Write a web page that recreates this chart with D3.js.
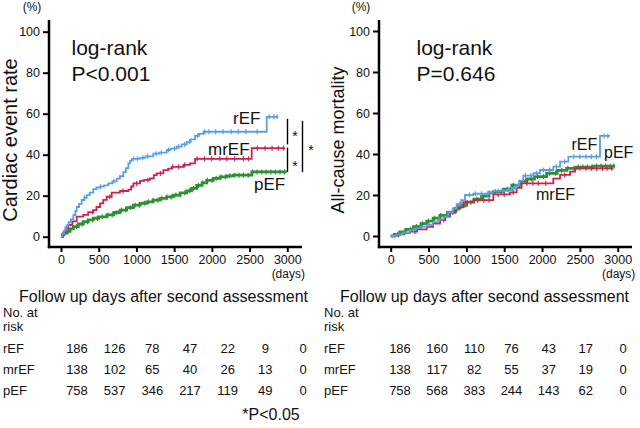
<!DOCTYPE html>
<html><head><meta charset="utf-8">
<script src="https://cdn.jsdelivr.net/npm/d3@7"></script>
<style>
body{margin:0;background:#fff}
svg{display:block}
text{font-family:"Liberation Sans",Arial,sans-serif;fill:#111}
</style>
</head><body>
<svg id="chart" width="640" height="428"></svg>
<script>
// ---------- data ----------
const xTicks = [0, 500, 1000, 1500, 2000, 2500, 3000];
const yTicks = [0, 20, 40, 60, 80, 100];
const groups = ["rEF", "mrEF", "pEF"];
const groupColors = ["#5a9ee6", "#d11f4f", "#2d9132"];

// Cardiac event rate (%), [day, cumulative %] step points
const cardiacREF = [[0,0],[20,1.5],[40,3],[60,4.5],[75,5.5],[100,7],[130,8.5],[163,10.5],[190,12.5],[208,14.5],[240,16],[274,17.9],[310,19],[340,20.3],[380,21.5],[429,23.2],[470,24],[517,24.4],[570,25],[628,26],[680,27],[738,28.3],[780,29.5],[826,31.5],[860,33.5],[893,35.8],[915,37],[937,38],[1047,38.5],[1120,39.2],[1224,40.5],[1300,41],[1401,42.3],[1450,43],[1534,43.9],[1600,45],[1666,46.3],[1720,47.5],[1777,49.2],[1830,50.2],[1887,51.2],[2727,58.5],[2881,58.5]];
const cardiacMREF = [[0,0],[30,2],[60,4],[97,5.7],[150,7.5],[208,9.8],[296,10.6],[360,12],[429,13],[470,14.5],[517,16.3],[560,18],[606,19.5],[672,21.5],[782,22.3],[893,23],[930,24.5],[959,26],[1047,27.2],[1100,27.7],[1180,28.5],[1230,30],[1268,30.9],[1357,32.5],[1420,33.2],[1467,34.1],[1622,35],[1710,35.8],[1777,38],[2528,43.2],[2970,43.2]];
const cardiacPEF = [[0,0],[20,1],[40,1.8],[75,2.6],[120,3.8],[163,4.9],[230,6.2],[296,7.3],[360,8.2],[429,9],[500,9.7],[606,10.6],[700,11.8],[782,13],[870,14.2],[959,15.4],[1050,16.3],[1136,17],[1220,17.8],[1312,18.7],[1400,19.4],[1489,20.3],[1580,21.4],[1666,22.4],[1730,23.6],[1799,25],[1870,26.3],[1931,27.5],[2020,28.5],[2108,29.2],[2200,29.7],[2285,30],[2530,31.6],[2992,31.6]];
const cardiacCensorREF = [310,525,700,965,1012,1085,1150,1262,1330,1425,1505,1560,1640,1705,1812,1905,1962,2050,2148,2255,2350,2452,2600,2760,2822,2865];
const cardiacCensorMREF = [420,648,822,1003,1152,1318,1482,1561,1640,1805,1902,1998,2105,2198,2302,2418,2485,2603,2705,2798,2880,2950];
const cardiacCensorPEF = [98,205,278,352,418,483,548,622,679,741,803,858,921,982,1038,1103,1158,1222,1283,1338,1402,1461,1523,1578,1642,1703,1758,1822,1879,1941,2003,2058,2122,2181,2238,2302,2361,2418,2482,2541,2598,2662,2719,2781,2842,2903,2962];

// All-cause mortality (%)
const mortREF = [[0,0],[80,0.8],[160,1.8],[255,2.9],[330,3.8],[400,4.6],[476,5.4],[560,6.8],[620,8],[695,9.4],[760,11.5],[820,13.5],[872,15.5],[930,17.5],[982,20],[1092,20.6],[1300,21.2],[1356,22],[1533,22.4],[1600,23.5],[1665,24.9],[1700,27],[1753,29.5],[1885,30.6],[1973,32.2],[2149,33.8],[2238,36.3],[2348,38.7],[2766,48.8],[2898,48.8]];
const mortMREF = [[0,0],[100,0.8],[180,1.5],[255,2.1],[350,3.2],[476,4.5],[560,6],[652,7.8],[720,9.5],[784,11.9],[870,14],[960,16.5],[1092,17.5],[1356,20.3],[1577,21.3],[1665,23.5],[1730,25.7],[2149,28],[2238,29.8],[2370,31.4],[2436,33],[2942,33]];
const mortPEF = [[0,0],[50,0.8],[120,2],[200,3.2],[300,4.6],[400,6],[476,7.3],[560,8.7],[650,10],[750,11.5],[850,13.5],[916,15],[1004,16.5],[1100,18],[1200,19.5],[1300,21],[1356,21.6],[1488,22.8],[1600,24.8],[1709,26.6],[1800,27.8],[1900,29],[2061,30.6],[2200,32],[2326,33],[2450,33.6],[2678,34.1],[2964,34.1]];
const mortCensorREF = [300,510,640,905,1040,1120,1200,1280,1420,1480,1560,1640,1780,1850,1930,2020,2100,2190,2300,2420,2500,2580,2650,2720,2820,2870];
const mortCensorMREF = [320,560,700,880,1010,1150,1230,1300,1420,1500,1620,1800,1880,1950,2050,2300,2500,2580,2650,2720,2800,2860,2920];
const mortCensorPEF = [90,180,260,340,420,500,580,660,740,820,900,980,1060,1140,1220,1300,1380,1460,1540,1620,1700,1780,1860,1940,2020,2100,2180,2260,2340,2420,2480,2540,2600,2660,2720,2780,2840,2900,2950];

// Numbers at risk
const riskCardiacREF = [186,126,78,47,22,9,0];
const riskCardiacMREF = [138,102,65,40,26,13,0];
const riskCardiacPEF = [758,537,346,217,119,49,0];
const riskMortREF = [186,160,110,76,43,17,0];
const riskMortMREF = [138,117,82,55,37,19,0];
const riskMortPEF = [758,568,383,244,143,62,0];

// ---------- drawing ----------
const svg = d3.select("#chart");

function stepValue(data, t) {
  const i = d3.bisector(d => d[0]).right(data, t) - 1;
  return data[Math.max(0, i)][1];
}

function panel(cfg) {
  const x = d3.scaleLinear().domain([0, 3000]).range([cfg.x0, cfg.x1]);
  const y = d3.scaleLinear().domain([0, 100]).range([cfg.y0, cfg.y100]);
  const g = svg.append("g");

  const order = [2, 1, 0];
  order.forEach(k => {
    const data = cfg.series[k];
    const line = d3.line().x(d => x(d[0])).y(d => y(d[1])).curve(d3.curveStepAfter);
    g.append("path").datum(data).attr("d", line)
      .attr("fill", "none").attr("stroke", groupColors[k])
      .attr("stroke-width", k === 2 ? 2.8 : 1.8);
    g.append("g").selectAll("line").data(cfg.censors[k]).join("line")
      .attr("x1", t => x(t)).attr("x2", t => x(t))
      .attr("y1", t => y(stepValue(data, t)) - 2.5)
      .attr("y2", t => y(stepValue(data, t)) + 2.5)
      .attr("stroke", groupColors[k]).attr("stroke-width", 1.2);
  });

  const fmt = d3.format("d");
  const yAxis = d3.axisLeft(y).tickValues(yTicks).tickFormat(fmt).tickSize(6).tickPadding(3);
  const ya = g.append("g").attr("transform", `translate(${cfg.ax},0)`).call(yAxis);
  ya.select(".domain").remove();
  ya.selectAll(".tick line").attr("stroke", "#000").attr("stroke-width", 2);
  ya.selectAll(".tick text").style("font-size", "12.5px").attr("fill", "#111")
    .style("font-family", "'Liberation Sans',Arial,sans-serif");

  const xAxis = d3.axisBottom(x).tickValues(xTicks).tickFormat(fmt).tickSize(5).tickPadding(3);
  const xa = g.append("g").attr("transform", `translate(0,${cfg.ay})`).call(xAxis);
  xa.select(".domain").remove();
  xa.selectAll(".tick line").attr("stroke", "#000").attr("stroke-width", 2);
  xa.selectAll(".tick text").style("font-size", "12.5px").attr("fill", "#111")
    .style("font-family", "'Liberation Sans',Arial,sans-serif");

  g.append("line").attr("x1", cfg.ax).attr("x2", cfg.ax).attr("y1", 20).attr("y2", cfg.ay + 1.2)
    .attr("stroke", "#000").attr("stroke-width", 2.5);
  g.append("line").attr("x1", cfg.ax - 1.2).attr("x2", cfg.axEnd).attr("y1", cfg.ay).attr("y2", cfg.ay)
    .attr("stroke", "#000").attr("stroke-width", 2.5);

  g.append("text").attr("x", cfg.pctX).attr("y", 11).attr("text-anchor", "middle")
    .style("font-size", "12px").text("(%)");
  g.append("text").attr("x", x(3000) + 1).attr("y", 278).attr("text-anchor", "middle")
    .style("font-size", "12px").text("(days)");

  g.append("text").attr("transform", `translate(${cfg.labX},${140}) rotate(-90)`)
    .attr("text-anchor", "middle").style("font-size", cfg.labSize + "px").text(cfg.ylabel);

  g.append("text").attr("x", cfg.lrX).attr("y", 55).style("font-size", "21px").text("log-rank");
  g.append("text").attr("x", cfg.lrX).attr("y", 81).style("font-size", "21px").text(cfg.pText);

  cfg.labels.forEach((l, k) => {
    g.append("text").attr("x", l[0]).attr("y", l[1]).style("font-size", cfg.grpSize + "px").text(groups[k]);
  });

  const col = d3.scalePoint().domain(d3.range(7)).range(cfg.colRange);
  g.append("text").attr("x", cfg.tblX + 16).attr("y", 302).style("font-size", "16px")
    .text("Follow up days after second assessment");
  g.append("text").attr("x", cfg.tblX).attr("y", 317).style("font-size", "13px").text("No. at");
  g.append("text").attr("x", cfg.tblX).attr("y", 331).style("font-size", "13px").text("risk");
  const rowY = [353, 374, 395];
  cfg.risk.forEach((row, k) => {
    g.append("text").attr("x", cfg.tblX).attr("y", rowY[k]).style("font-size", "13px").text(groups[k]);
    g.append("g").selectAll("text").data(row).join("text")
      .attr("x", (d, i) => col(i)).attr("y", rowY[k]).attr("text-anchor", "middle")
      .style("font-size", "13px").text(d => d);
  });
  return {x, y, g};
}

const left = panel({
  x0: 61, x1: 287.3, y0: 236.7, y100: 31.7, ax: 49, ay: 247, axEnd: 302,
  series: [cardiacREF, cardiacMREF, cardiacPEF],
  censors: [cardiacCensorREF, cardiacCensorMREF, cardiacCensorPEF],
  pctX: 32, labX: 17, labSize: 20, ylabel: "Cardiac event rate",
  lrX: 71.5, pText: "P<0.001",
  labels: [[233, 124], [208, 155], [254, 190]], grpSize: 17,
  tblX: 3, colRange: [77, 303],
  risk: [riskCardiacREF, riskCardiacMREF, riskCardiacPEF]
});

const right = panel({
  x0: 390.7, x1: 617.7, y0: 236, y100: 31, ax: 379, ay: 247, axEnd: 632,
  series: [mortREF, mortMREF, mortPEF],
  censors: [mortCensorREF, mortCensorMREF, mortCensorPEF],
  pctX: 361, labX: 344, labSize: 18, ylabel: "All-cause mortality",
  lrX: 416.5, pText: "P=0.646",
  labels: [[571.5, 150], [536, 200], [604, 158]], grpSize: 16,
  tblX: 324, colRange: [400, 623],
  risk: [riskMortREF, riskMortMREF, riskMortPEF]
});

// significance brackets (left panel)
const ly = left.y;
const brk = left.g.append("g").attr("stroke", "#000").attr("stroke-width", 1.4);
brk.append("line").attr("x1", 287.5).attr("x2", 287.5).attr("y1", ly(57.5)).attr("y2", ly(45));
brk.append("line").attr("x1", 287.5).attr("x2", 287.5).attr("y1", ly(43.5)).attr("y2", ly(31.5));
brk.append("line").attr("x1", 302.5).attr("x2", 302.5).attr("y1", ly(56.5)).attr("y2", ly(31.5));
[[295, ly(51.5)], [295, ly(36.8)], [311, ly(44.8)]].forEach(p => {
  left.g.append("text").attr("x", p[0]).attr("y", p[1] + 10).attr("text-anchor", "middle")
    .style("font-size", "14px").text("*");
});
svg.append("text").attr("x", 271).attr("y", 420).attr("text-anchor", "middle")
  .style("font-size", "16px").text("*P<0.05");
</script>
</body></html>
